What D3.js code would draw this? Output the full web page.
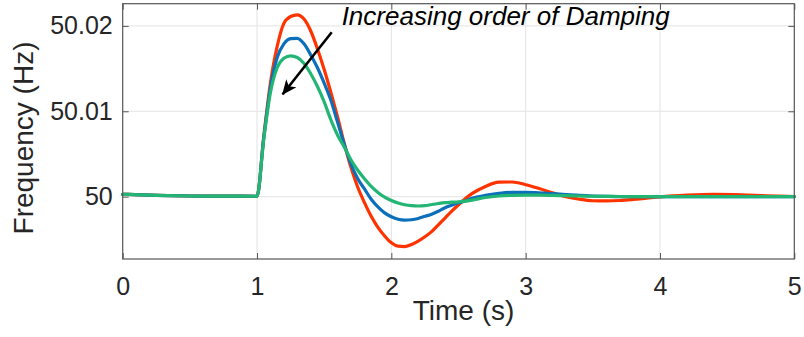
<!DOCTYPE html>
<html>
<head>
<meta charset="utf-8">
<script src="https://cdn.jsdelivr.net/npm/d3@7"></script>
<style>
  html, body { margin: 0; padding: 0; background: #fff; }
  svg { display: block; font-family: "Liberation Sans", Arial, Helvetica, sans-serif; }
</style>
</head>
<body>
<svg id="chart" width="804" height="337"></svg>
<script>
// Simulation time (s)
const time = [0, 0.25, 0.5, 0.75, 1.0, 1.05, 1.1, 1.15, 1.2, 1.25, 1.3, 1.35, 1.4, 1.45, 1.5,
  1.55, 1.6, 1.65, 1.7, 1.75, 1.8, 1.85, 1.9, 1.95, 2.0, 2.05, 2.1, 2.15, 2.2, 2.25, 2.3,
  2.35, 2.4, 2.45, 2.5, 2.55, 2.6, 2.7, 2.8, 2.9, 3.0, 3.1, 3.2, 3.3, 3.4, 3.5, 3.6, 3.7,
  3.8, 3.9, 4.0, 4.2, 4.4, 4.6, 4.8, 5.0];

// Grid frequency (Hz) for three damping levels, lowest damping first
const freqLowDamping = [50.00028, 50.00015, 50.00008, 50.00006, 50.00005, 50.0070, 50.0133, 50.0176,
  50.0203, 50.0211, 50.0213, 50.0208, 50.0194, 50.0173, 50.0149, 50.0122, 50.0093, 50.0062,
  50.0034, 50.0011, 49.9993, 49.9977, 49.9964, 49.9954, 49.9946, 49.9942, 49.99415, 49.9944,
  49.9948, 49.9953, 49.9959, 49.9967, 49.9975, 49.9983, 49.99905, 49.99975, 50.00035, 50.0012,
  50.0017, 50.00172, 50.0014, 50.00095, 50.00045, 50.0000, 49.9997, 49.99952, 49.9995,
  49.99955, 49.99967, 49.99982, 49.99997, 50.00017, 50.00027, 50.00022, 50.0001, 50.00002];

const freqMidDamping = [50.00028, 50.00015, 50.00008, 50.00006, 50.00005, 50.0069, 50.0128, 50.0163,
  50.0179, 50.0185, 50.01855, 50.0179, 50.0166, 50.0151, 50.0133, 50.0113, 50.0087, 50.0061,
  50.0038, 50.0021, 50.0009, 49.9997, 49.9988, 49.9981, 49.99765, 49.99735, 49.99725, 49.9973,
  49.99745, 49.9977, 49.99795, 49.9983, 49.9987, 49.9990, 49.99928, 49.9995, 49.9998, 50.00015,
  50.00038, 50.0005, 50.0005, 50.00045, 50.00035, 50.00025, 50.00015, 50.00008, 50.00003,
  50.0, 50.0, 50.0, 50.0, 50.0, 50.0, 50.0, 50.0, 50.0];

const freqHighDamping = [50.00028, 50.00015, 50.00008, 50.00006, 50.00005, 50.0067, 50.0122, 50.0151,
  50.0162, 50.0165, 50.0163, 50.0156, 50.0144, 50.0129, 50.0111, 50.0090, 50.0072, 50.0058,
  50.0043, 50.0031, 50.0021, 50.0012, 50.0005, 49.99995, 49.99955, 49.99925, 49.99905,
  49.99895, 49.99891, 49.99895, 49.99908, 49.9992, 49.9993, 49.99935, 49.9994, 49.99948,
  49.9996, 49.9999, 50.00008, 50.00015, 50.00017, 50.00017, 50.00015, 50.00012, 50.00008,
  50.00005, 50.00003, 50.00002, 50.0, 50.0, 50.0, 50.0, 50.0, 50.0, 50.0, 50.0];

const seriesColors = ["#ff3300", "#0b6fba", "#22b573"];
const xTicks = [0, 1, 2, 3, 4, 5];
const yTicks = [50, 50.01, 50.02];
const yTickLabels = ["50", "50.01", "50.02"];
const xLabel = "Time (s)";
const yLabel = "Frequency (Hz)";
const noteText = "Increasing order of Damping";
// arrow tail/tip and note anchor in data units
const arrowFrom = [1.556, 50.01926];
const arrowTo = [1.191, 50.0120];
const noteAt = [1.63, 50.0201];

const svg = d3.select("#chart");
const plotLeft = 122.7, plotRight = 794.3, plotTop = 3.7, plotBottom = 259;

const x = d3.scaleLinear().domain([0, 5]).range([plotLeft, plotRight]);
const y = d3.scaleLinear().domain([49.9927, 50.0226]).range([plotBottom, plotTop]);

// grid
const grid = svg.append("g").attr("stroke", "#e3e3e3").attr("stroke-width", 1);
grid.selectAll(".gx").data(xTicks.slice(1, -1)).join("line")
  .attr("x1", d => x(d)).attr("x2", d => x(d)).attr("y1", plotTop).attr("y2", plotBottom);
grid.selectAll(".gy").data(yTicks).join("line")
  .attr("x1", plotLeft).attr("x2", plotRight).attr("y1", d => y(d)).attr("y2", d => y(d));

// axes with inward ticks
const tickLen = 6;
const styleAxis = g => {
  g.select(".domain").remove();
  g.selectAll(".tick line").attr("stroke", "#555");
  g.selectAll(".tick text").attr("fill", "#262626").style("font-size", "25px")
    .style("font-family", '"Liberation Sans", Arial, Helvetica, sans-serif');
};
svg.append("g").attr("transform", `translate(0,${plotBottom})`)
  .call(d3.axisBottom(x).tickValues(xTicks).tickFormat(d3.format("d")).tickSize(-tickLen).tickPadding(18))
  .call(styleAxis);
svg.append("g").attr("transform", `translate(0,${plotTop})`)
  .call(d3.axisTop(x).tickValues(xTicks).tickFormat("").tickSize(-tickLen))
  .call(styleAxis);
svg.append("g").attr("transform", `translate(${plotLeft},0)`)
  .call(d3.axisLeft(y).tickValues(yTicks).tickFormat((d, i) => yTickLabels[i]).tickSize(-tickLen).tickPadding(10))
  .call(styleAxis);
svg.append("g").attr("transform", `translate(${plotRight},0)`)
  .call(d3.axisRight(y).tickValues(yTicks).tickFormat("").tickSize(-tickLen))
  .call(styleAxis);

// curves
const line = d3.line().x((d, i) => x(time[i])).y(d => y(d)).curve(d3.curveMonotoneX);
const plot = svg.append("g");
[freqLowDamping, freqMidDamping, freqHighDamping].forEach((s, k) => {
  plot.append("path").datum(s).attr("d", line)
    .attr("fill", "none").attr("stroke", seriesColors[k]).attr("stroke-width", 3.2)
    .attr("stroke-linejoin", "round").attr("stroke-linecap", "round");
});

// frame
svg.append("rect").attr("x", plotLeft).attr("y", plotTop)
  .attr("width", plotRight - plotLeft).attr("height", plotBottom - plotTop)
  .attr("fill", "none").attr("stroke", "#555").attr("stroke-width", 1.2);

// annotation arrow
const defs = svg.append("defs");
defs.append("marker").attr("id", "head").attr("viewBox", "0 0 15 13").attr("refX", 14).attr("refY", 6.5)
  .attr("markerWidth", 15).attr("markerHeight", 13).attr("markerUnits", "userSpaceOnUse").attr("orient", "auto")
  .append("path").attr("d", "M0,0 L15,6.5 L0,13 L4,6.5 Z").attr("fill", "#000");
svg.append("line")
  .attr("x1", x(arrowFrom[0])).attr("y1", y(arrowFrom[1]))
  .attr("x2", x(arrowTo[0])).attr("y2", y(arrowTo[1]))
  .attr("stroke", "#000").attr("stroke-width", 2.6).attr("marker-end", "url(#head)");
svg.append("text").attr("x", x(noteAt[0])).attr("y", y(noteAt[1]))
  .attr("font-size", 26).attr("font-style", "italic").attr("fill", "#000").text(noteText);

// axis titles
svg.append("text").attr("x", (plotLeft + plotRight) / 2 + 5).attr("y", 320).attr("text-anchor", "middle")
  .attr("font-size", 28).attr("fill", "#262626").text(xLabel);
svg.append("text").attr("transform", `translate(33,138) rotate(-90)`).attr("text-anchor", "middle")
  .attr("font-size", 28).attr("fill", "#262626").text(yLabel);
</script>
</body>
</html>
